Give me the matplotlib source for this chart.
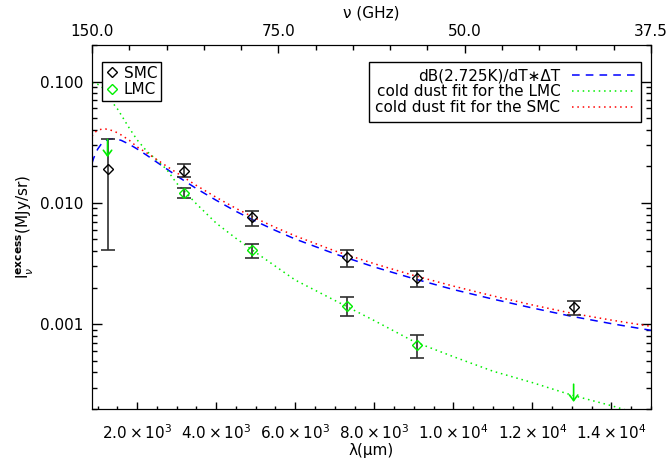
import matplotlib
matplotlib.use("Agg")
import matplotlib.pyplot as plt
from matplotlib.ticker import FixedLocator, MultipleLocator, FuncFormatter, LogLocator, NullFormatter
from matplotlib.lines import Line2D

# model curves, wavelength in micron
lam_model = [857, 900, 1000, 1100, 1200, 1300, 1400, 1500, 1600, 1800, 2000, 2250, 2500,
             2750, 3000, 3500, 4000, 4500, 5000, 5500, 6000, 7000, 8000, 9000, 10000,
             11000, 12000, 13000, 14000, 15000]
cmb_dbdt = [0.0212, 0.0234, 0.0277, 0.0308, 0.0327, 0.0336, 0.0338, 0.0334, 0.0327, 0.0304,
            0.0278, 0.0246, 0.0216, 0.0190, 0.0167, 0.0131, 0.0105, 0.00851, 0.00705, 0.00592,
            0.00503, 0.00380, 0.00296, 0.00237, 0.00193, 0.00161, 0.00136, 0.00116, 0.00101, 0.00089]
dust_lmc = [0.097, 0.0965, 0.095, 0.091, 0.082, 0.0725, 0.0655, 0.0595, 0.0528, 0.0413,
            0.0330, 0.0265, 0.0225, 0.0188, 0.0145, 0.0098, 0.0068, 0.0051, 0.0039, 0.0030,
            0.00231, 0.00157, 0.00107, 0.00072, 0.00054, 0.00041, 0.00033, 0.00026, 0.000213, 0.00017]
dust_smc = [0.0355, 0.0375, 0.0396, 0.0405, 0.0406, 0.0400, 0.0391, 0.0378, 0.0362, 0.0328,
            0.0289, 0.0257, 0.0227, 0.0200, 0.0177, 0.0139, 0.0111, 0.0090, 0.00745, 0.00627,
            0.00534, 0.00402, 0.00315, 0.00252, 0.00206, 0.00171, 0.00144, 0.00123, 0.00108, 0.00096]

# measurements
lam_smc = [1250, 3191, 4918, 7317, 9091, 13043]
smc = [0.0189, 0.0183, 0.0076, 0.00356, 0.00242, 0.00138]
smc_lo = [0.00405, 0.0163, 0.00648, 0.00297, 0.00202, 0.00120]
smc_hi = [0.0333, 0.0208, 0.0086, 0.0041, 0.00275, 0.00155]

lam_lmc = [3191, 4918, 7317, 9091]
lmc = [0.0120, 0.00405, 0.00141, 0.00068]
lmc_lo = [0.0109, 0.0035, 0.00117, 0.00053]
lmc_hi = [0.0132, 0.00459, 0.00166, 0.00082]

lam_lmc_lim = [1250, 13043]
lmc_lim = [0.0333, 0.00032]

top_ticks = ['150.0', '75.0', '50.0', '37.5']

green = '#00ee00'
fs = 11
fig = plt.figure(figsize=(6.7, 4.61), dpi=100)
ax = fig.add_axes([0.1373, 0.1128, 0.8343, 0.7896])

ax.plot(lam_model, cmb_dbdt, color='blue', lw=1.1, dashes=(5, 4))
ax.plot(lam_model, dust_lmc, color=green, lw=1.1, linestyle=(0, (1, 2.5)))
ax.plot(lam_model, dust_smc, color='red', lw=1.1, linestyle=(0, (1, 2.5)))

err_smc = [[v - l for v, l in zip(smc, smc_lo)], [h - v for v, h in zip(smc, smc_hi)]]
err_lmc = [[v - l for v, l in zip(lmc, lmc_lo)], [h - v for v, h in zip(lmc, lmc_hi)]]
ax.errorbar(lam_smc, smc, yerr=err_smc, fmt='none', ecolor='#303030', elinewidth=1.2, capsize=5, capthick=1.2)
ax.errorbar(lam_lmc, lmc, yerr=err_lmc, fmt='none', ecolor='#303030', elinewidth=1.2, capsize=5, capthick=1.2)
ax.plot(lam_smc, smc, 'D', ms=5.5, mfc='none', mec='black', mew=1.0)
ax.plot(lam_lmc, lmc, 'D', ms=5.5, mfc='none', mec=green, mew=1.0)

for x, v in zip(lam_lmc_lim, lmc_lim):
    ax.annotate('', xy=(x, v / 1.4), xytext=(x, v),
                arrowprops=dict(arrowstyle='->,head_length=0.4,head_width=0.3', color=green,
                                lw=1.2, shrinkA=0, shrinkB=0, mutation_scale=10))

ax.set_yscale('log')
ax.set_xlim(857, 15000)
ax.set_ylim(2e-4, 0.2)

ax.xaxis.set_major_locator(MultipleLocator(2000))
ax.xaxis.set_minor_locator(MultipleLocator(500))

def sci(x, pos):
    if x <= 0:
        return ''
    e = int(f"{x:e}".split('e')[1])
    m = x / 10 ** e
    return r'$%.1f\times10^{%d}$' % (m, e)

ax.xaxis.set_major_formatter(FuncFormatter(sci))
ax.yaxis.set_major_locator(LogLocator(base=10))
ax.yaxis.set_minor_locator(LogLocator(base=10, subs=range(2, 10)))
ax.yaxis.set_minor_formatter(NullFormatter())
ax.yaxis.set_major_formatter(FuncFormatter(lambda v, p: '%.3f' % v))

ax.tick_params(axis='x', which='major', direction='in', length=5, width=1, labelsize=fs, pad=10, top=False)
ax.tick_params(axis='x', which='minor', direction='in', length=2.5, width=1, top=False)
ax.tick_params(axis='y', which='major', direction='in', length=7, width=1, labelsize=fs, right=True, pad=6)
ax.tick_params(axis='y', which='minor', direction='in', length=3.5, width=1, right=True)

ax.set_xlabel('λ(μm)', fontsize=fs, labelpad=1)
ax.set_ylabel(r'I$_{\nu}^{\mathbf{excess}}$(MJy/sr)', fontsize=fs, labelpad=3)

ax2 = ax.twiny()
ax2.set_xlim(0, 3)
ax2.xaxis.set_major_locator(FixedLocator([0, 1, 2, 3]))
ax2.xaxis.set_minor_locator(MultipleLocator(0.2))
ax2.set_xticklabels(top_ticks)
ax2.tick_params(axis='x', which='major', direction='in', length=6, width=1, labelsize=fs, pad=4)
ax2.tick_params(axis='x', which='minor', direction='in', length=3.5, width=1)
ax2.set_xlabel('ν (GHz)', fontsize=fs, labelpad=5)

h1 = [Line2D([], [], ls='none', marker='D', ms=5.5, mfc='none', mec='black'),
      Line2D([], [], ls='none', marker='D', ms=5.5, mfc='none', mec=green)]
leg1 = ax.legend(h1, ['SMC', 'LMC'], loc='upper left', bbox_to_anchor=(0.0174, 0.954),
                 borderaxespad=0, fancybox=False, edgecolor='black', framealpha=1,
                 fontsize=fs, handlelength=0.8, handletextpad=0.4, labelspacing=0.1,
                 borderpad=0.25)
leg1.get_frame().set_linewidth(1)
ax.add_artist(leg1)

h2 = [Line2D([], [], color='blue', lw=1.1, dashes=(5, 4)),
      Line2D([], [], color=green, lw=1.1, linestyle=(0, (1, 2.5))),
      Line2D([], [], color='red', lw=1.1, linestyle=(0, (1, 2.5)))]
leg2 = ax.legend(h2, ['dB(2.725K)/dT∗ΔT', 'cold dust fit for the LMC', 'cold dust fit for the SMC'],
                 loc='upper right', bbox_to_anchor=(0.983, 0.954), borderaxespad=0,
                 fancybox=False, edgecolor='black', framealpha=1, fontsize=fs,
                 markerfirst=False, handlelength=4.1, handletextpad=0.75, labelspacing=0.05,
                 borderpad=0.45)
leg2.get_frame().set_linewidth(1)

fig.savefig('out.png', dpi=100)
